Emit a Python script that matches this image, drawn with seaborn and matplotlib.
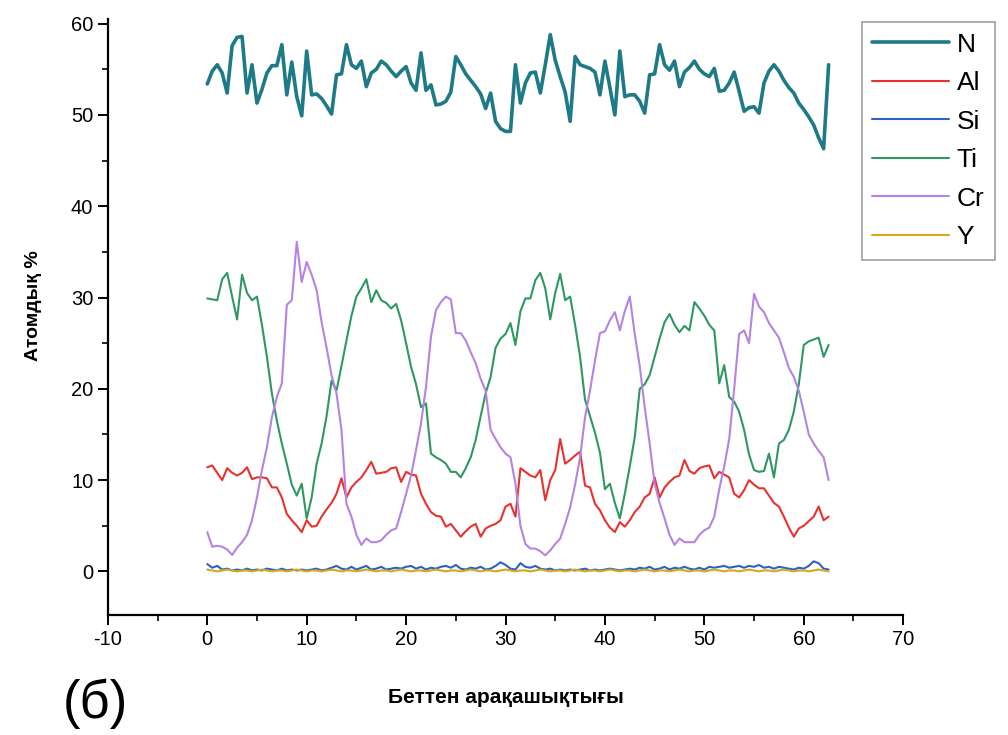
import numpy as np
import pandas as pd
import matplotlib
matplotlib.use("Agg")
import matplotlib.pyplot as plt
from matplotlib.ticker import MultipleLocator
import seaborn as sns

# Depth profile: distance from surface and atomic % of each element
depth = [i * 0.5 for i in range(126)]

N = [53.4, 54.8, 55.5, 54.6, 52.4, 57.6, 58.5, 58.6, 52.4, 55.5,
     51.3, 52.8, 54.6, 55.4, 55.4, 57.7, 52.2, 55.8, 52.0, 49.9,
     57.0, 52.2, 52.3, 51.8, 51.0, 50.1, 54.4, 54.5, 57.7, 55.5,
     55.1, 55.9, 53.1, 54.6, 55.0, 55.9, 55.5, 54.8, 54.2, 54.8,
     55.3, 53.5, 52.7, 56.8, 52.7, 53.3, 51.1, 51.2, 51.5, 52.5,
     56.4, 55.5, 54.5, 53.8, 53.1, 52.3, 50.7, 52.4, 49.3, 48.5,
     48.2, 48.2, 55.5, 51.3, 53.5, 54.6, 54.7, 52.4, 55.5, 58.8,
     56.0, 54.2, 52.5, 49.3, 56.4, 55.5, 55.3, 55.1, 54.7, 52.2,
     55.9, 53.0, 50.0, 57.0, 52.0, 52.2, 52.2, 51.5, 50.2, 54.4,
     54.5, 57.7, 55.5, 54.9, 55.9, 53.1, 54.7, 55.2, 55.9, 55.0,
     54.5, 54.2, 55.1, 52.6, 52.7, 53.5, 54.7, 52.6, 50.4, 50.8,
     50.9, 50.2, 53.5, 54.8, 55.5, 54.8, 53.8, 53.0, 52.4, 51.3,
     50.6, 49.8, 48.9, 47.5, 46.3, 55.5]

Al = [11.4, 11.6, 10.8, 10.0, 11.3, 10.8, 10.5, 10.8, 11.4, 10.1,
      10.3, 10.3, 10.2, 9.2, 9.2, 8.1, 6.3, 5.6, 5.0, 4.3,
      5.6, 4.9, 5.0, 6.0, 6.8, 7.5, 8.5, 10.2, 8.1, 9.2,
      9.8, 10.3, 11.1, 12.0, 10.7, 10.8, 10.9, 11.3, 11.4, 9.8,
      10.9, 10.6, 10.5, 8.5, 7.4, 6.5, 6.1, 6.0, 4.9, 5.2,
      4.5, 3.8, 4.4, 4.9, 5.2, 3.8, 4.7, 5.0, 5.2, 5.6,
      7.1, 7.4, 6.0, 11.3, 10.9, 10.5, 10.3, 11.1, 7.8, 10.0,
      11.1, 14.5, 11.8, 12.2, 12.7, 13.1, 9.4, 9.2, 7.4, 6.7,
      5.6, 4.8, 4.3, 5.4, 4.9, 5.6, 6.5, 7.1, 8.1, 8.5,
      10.3, 8.1, 9.2, 9.8, 10.3, 10.5, 12.2, 11.0, 10.7, 11.3,
      11.5, 11.6, 10.2, 10.9, 10.6, 10.3, 8.5, 8.1, 8.9, 10.0,
      9.5, 9.1, 9.1, 8.3, 7.5, 7.1, 6.0, 4.8, 3.8, 4.7,
      5.0, 5.5, 6.0, 7.1, 5.6, 6.0]

Si = [0.8, 0.4, 0.6, 0.2, 0.3, 0.1, 0.2, 0.1, 0.3, 0.1,
      0.2, 0.1, 0.3, 0.2, 0.1, 0.3, 0.1, 0.2, 0.1, 0.2,
      0.1, 0.2, 0.3, 0.1, 0.2, 0.4, 0.6, 0.3, 0.2, 0.5,
      0.2, 0.4, 0.6, 0.2, 0.3, 0.5, 0.2, 0.3, 0.4, 0.3,
      0.5, 0.6, 0.3, 0.5, 0.2, 0.4, 0.3, 0.5, 0.6, 0.4,
      0.7, 0.3, 0.2, 0.4, 0.3, 0.5, 0.2, 0.3, 0.6, 1.0,
      0.7, 0.3, 0.2, 0.9, 0.5, 0.4, 0.6, 0.3, 0.2, 0.3,
      0.1, 0.2, 0.1, 0.2, 0.1, 0.2, 0.3, 0.1, 0.2, 0.1,
      0.2, 0.3, 0.2, 0.1, 0.2, 0.3, 0.2, 0.4, 0.3, 0.5,
      0.2, 0.3, 0.5, 0.2, 0.4, 0.3, 0.5, 0.3, 0.2, 0.4,
      0.2, 0.5, 0.4, 0.5, 0.6, 0.4, 0.5, 0.6, 0.4, 0.6,
      0.5, 0.7, 0.4, 0.5, 0.3, 0.5, 0.4, 0.3, 0.2, 0.4,
      0.3, 0.6, 1.1, 0.9, 0.3, 0.2]

Ti = [29.9, 29.8, 29.7, 32.0, 32.7, 30.1, 27.6, 32.5, 30.5, 29.7,
      30.1, 27.0, 23.5, 19.5, 16.5, 14.0, 11.8, 9.5, 8.3, 9.6,
      5.8, 8.1, 11.8, 14.0, 17.0, 20.9, 19.8, 22.5, 25.3, 28.0,
      30.1, 31.0, 32.0, 29.5, 30.8, 29.7, 29.4, 28.8, 29.3, 27.5,
      25.0, 22.4, 20.5, 18.0, 18.4, 12.9, 12.5, 12.2, 11.8, 10.9,
      10.9, 10.3, 11.3, 12.5, 14.4, 17.0, 19.5, 21.3, 24.5, 25.5,
      26.0, 27.2, 24.8, 28.5, 29.9, 29.9, 31.9, 32.7, 31.0, 27.6,
      30.5, 32.6, 29.7, 30.1, 27.0, 23.5, 18.8, 17.0, 15.2, 13.0,
      9.0, 9.6, 7.5, 5.8, 8.5, 11.5, 14.7, 20.0, 20.5, 21.5,
      23.5, 25.5, 27.3, 28.2, 27.0, 26.2, 26.9, 26.4, 29.5, 28.8,
      28.0, 27.0, 26.4, 20.6, 22.6, 19.1, 18.6, 17.5, 15.5, 12.8,
      11.1, 10.9, 11.0, 12.9, 10.3, 14.0, 14.4, 15.5, 17.5, 20.5,
      24.8, 25.2, 25.4, 25.6, 23.5, 24.8]

Cr = [4.3, 2.7, 2.8, 2.7, 2.4, 1.8, 2.6, 3.2, 4.0, 5.6,
      8.1, 11.1, 13.6, 16.9, 19.1, 20.6, 29.2, 29.7, 36.1, 31.7,
      33.9, 32.5, 30.8, 27.3, 24.5, 21.5, 19.5, 15.5, 7.4, 6.0,
      4.0, 2.9, 3.6, 3.2, 3.2, 3.4, 4.0, 4.5, 4.7, 6.5,
      8.5, 10.5, 13.3, 16.2, 20.2, 25.7, 28.6, 29.5, 30.1, 29.8,
      26.1, 26.1, 25.3, 24.0, 22.8, 21.1, 19.8, 15.5, 14.5, 13.6,
      12.9, 12.5, 9.6, 5.0, 3.0, 2.5, 2.5, 2.2, 1.75, 2.3,
      3.0, 3.6, 5.2, 7.0, 9.5, 12.5, 16.9, 19.8, 23.1, 26.1,
      26.3, 27.5, 28.4, 26.4, 28.5, 30.1, 26.0, 22.5, 18.0, 14.0,
      9.6, 7.5, 5.8, 4.0, 2.9, 3.6, 3.2, 3.2, 3.2, 4.0,
      4.5, 4.8, 6.0, 9.0, 11.5, 14.5, 20.0, 26.0, 26.4, 25.0,
      30.4, 29.0, 28.4, 27.2, 26.4, 25.6, 24.0, 22.3, 21.3, 19.8,
      17.5, 15.0, 14.0, 13.2, 12.5, 10.0]

Y = [0.2, 0.1, 0.0, 0.1, 0.2, 0.1, 0.0, 0.1, 0.1, 0.0,
     0.1, 0.2, 0.1, 0.0, 0.1, 0.1, 0.0, 0.1, 0.2, 0.1,
     0.0, 0.1, 0.1, 0.0, 0.1, 0.2, 0.1, 0.0, 0.1, 0.1,
     0.0, 0.1, 0.2, 0.1, 0.0, 0.1, 0.1, 0.0, 0.1, 0.2,
     0.1, 0.0, 0.1, 0.1, 0.0, 0.1, 0.2, 0.1, 0.0, 0.1,
     0.1, 0.0, 0.1, 0.2, 0.1, 0.0, 0.1, 0.1, 0.0, 0.1,
     0.2, 0.1, 0.0, 0.1, 0.1, 0.0, 0.1, 0.2, 0.1, 0.0,
     0.1, 0.1, 0.0, 0.1, 0.2, 0.1, 0.0, 0.1, 0.1, 0.0,
     0.1, 0.2, 0.1, 0.0, 0.1, 0.1, 0.0, 0.1, 0.2, 0.1,
     0.0, 0.1, 0.1, 0.0, 0.1, 0.2, 0.1, 0.0, 0.1, 0.1,
     0.0, 0.1, 0.2, 0.1, 0.0, 0.1, 0.1, 0.0, 0.1, 0.2,
     0.1, 0.0, 0.1, 0.1, 0.0, 0.1, 0.2, 0.1, 0.0, 0.1,
     0.1, 0.0, 0.1, 0.2, 0.1, 0.0]

elements = ["N", "Al", "Si", "Ti", "Cr", "Y"]
colors = {"N": "#1f7a87", "Al": "#e8322e", "Si": "#2b62c4",
          "Ti": "#2f9762", "Cr": "#b483e4", "Y": "#d6a81c"}
widths = {"N": 2.6, "Al": 1.5, "Si": 1.5, "Ti": 1.5, "Cr": 1.5, "Y": 1.5}

df = pd.DataFrame({"depth": depth, "N": N, "Al": Al, "Si": Si,
                   "Ti": Ti, "Cr": Cr, "Y": Y})

sns.set_style("ticks")
plt.rcParams["font.family"] = ["Liberation Sans", "DejaVu Sans"]
plt.rcParams["axes.unicode_minus"] = False
plt.rcParams["text.color"] = "black"
plt.rcParams["axes.labelcolor"] = "black"

fig = plt.figure(figsize=(10.08, 7.35), dpi=100)
ax = fig.add_axes([0.107, 0.163, 0.789, 0.811])

for el in elements:
    sns.lineplot(data=df, x="depth", y=el, ax=ax, color=colors[el],
                 linewidth=widths[el], label=el, legend=False)

ax.set_xlim(-10, 70)
ax.set_ylim(-4.8, 60.5)
ax.xaxis.set_major_locator(MultipleLocator(10))
ax.xaxis.set_minor_locator(MultipleLocator(5))
ax.yaxis.set_minor_locator(MultipleLocator(5))
ax.set_yticks([0, 10, 20, 30, 40, 50, 60])
ax.tick_params(axis="both", which="major", length=7, width=1.4,
               labelsize=14.5, direction="out", colors="black")
ax.tick_params(axis="both", which="minor", length=4, width=1.2,
               direction="out", colors="black")
for s in ["top", "right"]:
    ax.spines[s].set_visible(False)
for s in ["left", "bottom"]:
    ax.spines[s].set_linewidth(1.6)
    ax.spines[s].set_color("black")

ax.set_xlabel("Беттен арақашықтығы", fontsize=15, fontweight="bold",
              labelpad=28)
ax.set_ylabel("Атомдық %", fontsize=14, fontweight="bold")
ax.yaxis.set_label_coords(-0.083, 0.52)

fig.text(0.062, 0.008, "(б)", fontsize=38, ha="left", va="bottom")

handles = [plt.Line2D([], [], color=colors[el], linewidth=widths[el])
           for el in elements]
leg = fig.legend(handles, elements, loc="upper left",
                 bbox_to_anchor=(0.855, 0.970), fontsize=19,
                 frameon=True, fancybox=False, edgecolor="#888888",
                 handlelength=2.9, handletextpad=0.3, labelspacing=0.55,
                 borderpad=0.4, borderaxespad=0)
leg.get_frame().set_linewidth(1.2)

fig.savefig("out.png", dpi=100)
